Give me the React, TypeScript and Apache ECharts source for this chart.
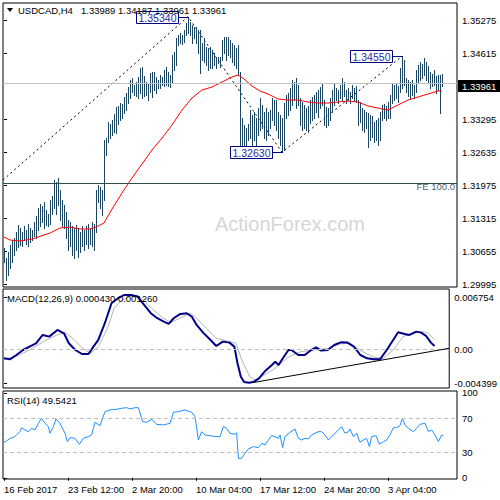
import React, { useEffect, useRef } from "react";
import * as echarts from "echarts";

const FONT = '"Liberation Sans", Arial, sans-serif';

const symbolTitle = "USDCAD,H4";
const ohlc = ["1.33989", "1.34187", "1.33961", "1.33961"];
const lastPrice = 1.33961;
const feLevel = 1.31835;

const highs = [
  1.30715, 1.30515, 1.30635, 1.30775, 1.30875, 1.30915, 1.31035, 1.31175, 1.31115, 1.31035,
  1.31155, 1.31075, 1.31195, 1.31115, 1.31075, 1.31235, 1.31355, 1.31515, 1.31595, 1.31555,
  1.31635, 1.31475, 1.31395, 1.31675, 1.31755, 1.32075, 1.32035, 1.32115, 1.31875, 1.31675,
  1.31575, 1.31435, 1.31275, 1.31235, 1.31155, 1.31115, 1.31175, 1.31115, 1.31035, 1.31155,
  1.31075, 1.31155, 1.31195, 1.31115, 1.31235, 1.31195, 1.31875, 1.31975, 1.31935, 1.31875,
  1.32875, 1.32915, 1.33235, 1.33195, 1.33275, 1.33395, 1.33535, 1.33555, 1.33615, 1.33595,
  1.33735, 1.33815, 1.33935, 1.34075, 1.34115, 1.33975, 1.34035, 1.34135, 1.34315, 1.34335,
  1.34155, 1.34035, 1.34015, 1.34215, 1.34235, 1.34235, 1.34135, 1.34075, 1.34175, 1.34135,
  1.34275, 1.34335, 1.34235, 1.34175, 1.34575, 1.34635, 1.34915, 1.34975, 1.35015, 1.34975,
  1.35075, 1.35215, 1.3534, 1.35235, 1.35175, 1.35135, 1.35135, 1.35075, 1.35075, 1.34815,
  1.34915, 1.34735, 1.34715, 1.34735, 1.34675, 1.34615, 1.34515, 1.34535, 1.34535, 1.34875,
  1.34935, 1.34935, 1.34935, 1.34875, 1.34815, 1.34775, 1.34715, 1.34775, 1.34235, 1.33315,
  1.33175, 1.33115, 1.33195, 1.33475, 1.33375, 1.33435, 1.33315, 1.33515, 1.33715, 1.33575,
  1.33435, 1.33515, 1.33435, 1.33475, 1.33715, 1.33675, 1.33675, 1.33435, 1.33375, 1.33315,
  1.33615, 1.33775, 1.33815, 1.33915, 1.34075, 1.34035, 1.34115, 1.33975, 1.33715, 1.33635,
  1.33575, 1.33515, 1.33555, 1.33675, 1.33735, 1.33775, 1.33835, 1.33875, 1.33935, 1.34015,
  1.33675, 1.33535, 1.33515, 1.33715, 1.33875, 1.34015, 1.33915, 1.33875, 1.33975, 1.34115,
  1.34035, 1.33875, 1.33915, 1.33835, 1.33975, 1.33915, 1.33955, 1.33675, 1.33635, 1.33515,
  1.33475, 1.33435, 1.33415, 1.33375, 1.33355, 1.33235, 1.33275, 1.33315, 1.33435, 1.33575,
  1.33595, 1.33555, 1.33635, 1.33775, 1.34015, 1.33975, 1.33995, 1.33955, 1.34315, 1.3455,
  1.34475, 1.34115, 1.34075, 1.34035, 1.34075, 1.33975, 1.34275, 1.34375, 1.34435, 1.34395,
  1.34515, 1.34435, 1.34355, 1.34235, 1.34195, 1.34275, 1.34155, 1.34175, 1.34175, 1.34187,
];

const lows = [
  1.30435, 1.30075, 1.30175, 1.30315, 1.30435, 1.30575, 1.30675, 1.30735, 1.30775, 1.30755,
  1.30875, 1.30795, 1.30755, 1.30835, 1.30875, 1.30955, 1.30915, 1.31075, 1.31155, 1.31235,
  1.31115, 1.31175, 1.31155, 1.31195, 1.31395, 1.31515, 1.31395, 1.31575, 1.31275, 1.31155,
  1.31115, 1.30915, 1.30675, 1.30755, 1.30575, 1.30515, 1.30675, 1.30535, 1.30635, 1.30755,
  1.30675, 1.30795, 1.30715, 1.30795, 1.30755, 1.30675, 1.31035, 1.31635, 1.31515, 1.31375,
  1.31675, 1.32575, 1.32835, 1.32915, 1.32975, 1.33035, 1.33015, 1.33195, 1.33275, 1.33315,
  1.33415, 1.33475, 1.33615, 1.33715, 1.33835, 1.33775, 1.33755, 1.33715, 1.33815, 1.33715,
  1.33755, 1.33775, 1.33675, 1.33835, 1.33735, 1.33875, 1.33815, 1.33915, 1.33915, 1.33975,
  1.33955, 1.33975, 1.33955, 1.33935, 1.34035, 1.34275, 1.34375, 1.34775, 1.34815, 1.34795,
  1.34835, 1.34975, 1.35015, 1.34975, 1.34815, 1.34915, 1.34815, 1.34615, 1.34215, 1.34475,
  1.34435, 1.34375, 1.34275, 1.34315, 1.34315, 1.34375, 1.34315, 1.34415, 1.34335, 1.34475,
  1.34615, 1.34475, 1.34575, 1.34535, 1.34435, 1.34375, 1.34315, 1.34175, 1.32735, 1.32715,
  1.32675, 1.32755, 1.32875, 1.32915, 1.32775, 1.32875, 1.32735, 1.32975, 1.33075, 1.33115,
  1.32915, 1.32875, 1.32975, 1.33115, 1.33275, 1.33175, 1.33075, 1.32915, 1.32775, 1.3263,
  1.32675, 1.33315, 1.33375, 1.33475, 1.33575, 1.33675, 1.33515, 1.33575, 1.33175, 1.33075,
  1.33115, 1.33075, 1.33035, 1.33215, 1.33275, 1.33315, 1.33435, 1.33335, 1.33515, 1.33575,
  1.33175, 1.33135, 1.33175, 1.33275, 1.33435, 1.33575, 1.33675, 1.33615, 1.33715, 1.33675,
  1.33755, 1.33615, 1.33675, 1.33615, 1.33715, 1.33675, 1.33635, 1.33175, 1.33235, 1.33075,
  1.33035, 1.33115, 1.32735, 1.32875, 1.32935, 1.32835, 1.32875, 1.32775, 1.32875, 1.33275,
  1.33315, 1.33275, 1.33315, 1.33315, 1.33615, 1.33675, 1.33715, 1.33635, 1.33835, 1.33915,
  1.33975, 1.33835, 1.33755, 1.33715, 1.33775, 1.33715, 1.33835, 1.34035, 1.34075, 1.34115,
  1.34175, 1.34075, 1.34035, 1.33915, 1.33955, 1.33975, 1.33815, 1.33875, 1.33415, 1.33961,
];

const maPoints: [number, number][] = [
  [0, 1.30935], [3, 1.30875], [8, 1.30855], [14, 1.30895], [23, 1.31015], [28, 1.31115],
  [33, 1.31135], [38, 1.31095], [43, 1.31095], [46, 1.31135], [50, 1.31215], [54, 1.31495],
  [59, 1.31815], [64, 1.32115], [69, 1.32395], [74, 1.32675], [79, 1.32915], [84, 1.33175],
  [89, 1.33475], [94, 1.33715], [99, 1.33875], [104, 1.33935], [109, 1.34035], [114, 1.34135],
  [117, 1.34175], [120, 1.34095], [124, 1.33955], [128, 1.33855], [132, 1.33795], [137, 1.33695],
  [142, 1.33675], [147, 1.33675], [152, 1.33635], [157, 1.33615], [162, 1.33615], [167, 1.33635],
  [172, 1.33655], [177, 1.33635], [182, 1.33555], [187, 1.33515], [192, 1.33475], [197, 1.33575],
  [202, 1.33675], [207, 1.33735], [212, 1.33795], [217, 1.33855], [219, 1.33855],
];

const fibPoints: [number, number][] = [[-0.5, 1.32075], [92, 1.3534], [139, 1.3263], [199, 1.3455]];

const swingLabels = [
  { idx: 92, price: 1.3534, text: "1.35340" },
  { idx: 139, price: 1.3263, text: "1.32630" },
  { idx: 199, price: 1.3455, text: "1.34550" },
];

const macdPoints: [number, number][] = [
  [0, -0.00117], [3, -0.0013], [6.3, -0.00074], [9.7, -0.00009], [13, 0.00035], [16.3, 0.00078],
  [19.7, 0.00187], [23, 0.00165], [27.2, 0.00252], [30.5, 0.00208], [33, 0.00078], [36.3, -0.00009],
  [39.7, -0.00061], [43, -0.00061], [45.5, 0.00035], [48, 0.00122], [51.3, 0.00339], [54.7, 0.00599],
  [58, 0.00664], [61.3, 0.00707], [64.7, 0.00707], [68, 0.00686], [71.3, 0.00577], [74.7, 0.00469],
  [78, 0.00404], [81.3, 0.0036], [83.8, 0.0033], [86.3, 0.00404], [89.7, 0.0046], [93, 0.00469],
  [95.5, 0.00425], [98, 0.00317], [101.3, 0.00217], [104.7, 0.0013], [108, 0.00043], [111.3, 0.001],
  [114.7, 0.00087], [117.2, 0.00035], [118.8, -0.00182], [120.5, -0.00356], [122.2, -0.00425],
  [124.7, -0.00434], [127.2, -0.00421], [129.7, -0.00378], [133, -0.00278], [136.3, -0.00204],
  [138, -0.00161], [139.7, -0.00204], [141.3, -0.00139], [144.7, -0.00009], [146.3, -0.00009],
  [149.7, -0.00074], [153, -0.00074], [156.3, -0.00009], [158.8, 0.00026], [161.3, -0.00017],
  [164.7, -0.00009], [168, 0.00056], [171.3, 0.00091], [174.7, 0.00087], [178, 0.00035],
  [181.3, -0.00074], [184.7, -0.00117], [188, -0.0013], [191.3, -0.0013], [194.7, -0.00009],
  [198, 0.00122], [200.5, 0.00221], [203.8, 0.002], [206.3, 0.00187], [209.7, 0.0023],
  [212.2, 0.00217], [214.7, 0.00174], [217.2, 0.00087], [219, 0.00043],
];

const signalPoints: [number, number][] = [
  [0, -0.0013], [6, -0.00095], [13, -0.00009], [20, 0.001], [27, 0.00187], [31, 0.00217],
  [35, 0.00143], [40, 0.00013], [44, -0.00052], [48, 0.00035], [53, 0.00295], [56, 0.00534],
  [60, 0.00642], [65, 0.00694], [70, 0.00664], [75, 0.00534], [81, 0.00404], [85, 0.00347],
  [91, 0.00425], [95, 0.00469], [98, 0.00404], [103, 0.00273], [108, 0.00143], [115, 0.001],
  [118, 0.00078], [121, -0.00139], [125, -0.00356], [128, -0.004], [131, -0.00356], [138, -0.00247],
  [145, -0.00095], [151, -0.0003], [158, -0.00009], [165, 0.00013], [171, 0.00069], [176, 0.00078],
  [181, -0.00009], [188, -0.00104], [193, -0.00117], [198, -0.00009], [203, 0.00165], [208, 0.00208],
  [213, 0.0023], [216, 0.00208], [219, 0.00126],
];

const macdTrend: [number, number][] = [[126.3, -0.00434], [226.5, 0.00013]];

const rsiPoints: [number, number][] = [
  [0, 41.8], [1.3, 43.3], [3, 46.5], [4.7, 47.3], [6.3, 50.4], [8, 54.3], [8.8, 59.0], [10.5, 56.3],
  [12.2, 54.3], [13.8, 58.2], [15.5, 56.3], [17.2, 64.1], [18.8, 70.0], [20.5, 64.1], [22.2, 60.2],
  [23, 52.4], [24.7, 60.2], [26, 69.2], [28, 64.1], [30.5, 52.4], [31.7, 42.5], [33, 47.3],
  [35.5, 46.5], [37.7, 39.4], [39.7, 46.5], [42.2, 48.4], [43.8, 50.4], [45.5, 65.3], [48, 61.4],
  [50.5, 77.8], [53, 79.8], [56.3, 80.6], [58.8, 81.8], [61.3, 82.5], [63, 81.0], [65.5, 82.5],
  [67.2, 82.5], [69.3, 66.1], [71.3, 65.3], [73.8, 68.8], [76.3, 62.9], [79.7, 62.2], [83, 64.1],
  [84.7, 77.1], [87.2, 77.8], [90.5, 79.8], [93.8, 77.1], [95.5, 72.0], [97.2, 44.5], [98.8, 54.3],
  [100.5, 50.4], [103, 49.6], [105.5, 48.4], [108, 48.4], [109.7, 60.2], [111.3, 58.2], [113, 52.4],
  [115.5, 51.2], [116.3, 53.1], [117.2, 22.9], [118.8, 22.9], [120.5, 28.8], [122.2, 33.9],
  [124.7, 36.7], [127.2, 35.5], [128.8, 40.6], [130.5, 38.6], [132.2, 44.5], [133.8, 49.6],
  [135.5, 48.4], [137.2, 46.5], [138, 50.4], [139.3, 35.5], [140.5, 48.4], [143, 53.5],
  [145.5, 57.5], [147.2, 46.5], [148.8, 44.5], [150.5, 46.5], [152.2, 45.7], [153.8, 50.4],
  [155.5, 52.4], [157.2, 54.3], [158.8, 54.3], [160.5, 50.4], [162.2, 44.5], [164.7, 50.4],
  [167.2, 56.3], [168.8, 60.2], [170.5, 52.4], [172.2, 54.3], [173, 57.5], [174.7, 48.4],
  [176.3, 52.4], [178, 41.8], [179.7, 44.5], [181.3, 46.5], [182.7, 36.7], [183.8, 48.4],
  [186, 49.6], [187.7, 39.4], [189.7, 42.5], [191.3, 44.5], [193, 50.4], [194.7, 59.0],
  [196.3, 59.0], [198, 61.4], [199.2, 70.0], [200.5, 62.2], [202.2, 58.2], [204.7, 54.3],
  [206.3, 58.2], [208, 62.9], [210.5, 64.1], [212.2, 54.3], [213.8, 56.3], [215.5, 50.4],
  [217.2, 42.5], [218.8, 50.4], [219.7, 49.54],
];

const priceTicks = [1.35275, 1.34615, 1.33295, 1.32635, 1.31975, 1.31315, 1.30655, 1.29995];
const macdTicks = [-0.004399, 0, 0.006754];
const rsiTicks = [0, 30, 70, 100];
const rsiLevels = [70, 30];
const dateTickIdx = [0, 32, 64, 96, 128, 160, 192];
const dateLabels = ["16 Feb 2017", "23 Feb 12:00", "2 Mar 20:00", "10 Mar 04:00", "17 Mar 12:00", "24 Mar 20:00", "3 Apr 04:00"];

const BAR = "#1b4560";
const FS = 9.5;

export default function App() {
  const ref = useRef<HTMLDivElement>(null);
  useEffect(() => {
    if (!ref.current) return;
    const chart = echarts.init(ref.current, null, { renderer: "svg" });
    const barData = highs.map((h, i) => [i, h, lows[i]]);
    const gridBase = { left: 3, width: 454, show: true, borderColor: "#000", borderWidth: 1, backgroundColor: "transparent" };
    const xBase = (g: number) => ({
      type: "value", gridIndex: g, min: -0.5, max: 226.5,
      axisLine: { show: false }, splitLine: { show: false },
      axisTick: g === 2 ? { show: true, customValues: dateTickIdx, length: 3, lineStyle: { color: "#000" } } : { show: false },
      axisLabel: g === 2 ? {
        show: true, customValues: dateTickIdx, align: "left", margin: 5, fontSize: FS, color: "#000", fontFamily: FONT,
        formatter: (v: number) => { const k = dateTickIdx.indexOf(Math.round(v)); return k >= 0 ? dateLabels[k] : ""; },
      } : { show: false },
    });
    const yBase = (g: number, min: number, max: number, ticks: number[], fmt: (v: number) => string) => ({
      type: "value", gridIndex: g, position: "right", min, max,
      axisLine: { show: false }, splitLine: { show: false },
      axisTick: { show: true, customValues: ticks, length: 3, lineStyle: { color: "#000" } },
      axisLabel: { customValues: ticks, formatter: fmt, margin: 5, fontSize: FS, color: "#000", fontFamily: FONT },
    });
    const option: any = {
      animation: false,
      textStyle: { fontFamily: FONT },
      grid: [
        { ...gridBase, top: 3, height: 284 },
        { ...gridBase, top: 289, height: 99 },
        { ...gridBase, top: 391, height: 88 },
      ],
      xAxis: [xBase(0), xBase(1), xBase(2)],
      yAxis: [
        yBase(0, 1.29935, 1.35615, priceTicks, (v: number) => v.toFixed(5)),
        yBase(1, -0.00503, 0.00784, macdTicks, (v: number) => (Math.abs(v) < 1e-9 ? "0.00" : v.toFixed(6))),
        yBase(2, -1.4, 102.1, rsiTicks, (v: number) => String(Math.round(v))),
      ],
      series: [
        {
          type: "line", xAxisIndex: 0, yAxisIndex: 0, data: fibPoints, symbol: "none", z: 2, silent: true,
          lineStyle: { color: "#000", width: 1, type: [2, 3] },
          markLine: {
            silent: true, symbol: ["none", "none"], label: { show: false },
            data: [
              { yAxis: lastPrice, lineStyle: { color: "#c0c0c0", type: "solid", width: 1 } },
              { yAxis: feLevel, lineStyle: { color: "#2f4f4f", type: "solid", width: 1 } },
            ],
          },
        },
        {
          type: "custom", xAxisIndex: 0, yAxisIndex: 0, data: barData, z: 3, clip: true,
          encode: { x: 0, y: [1, 2] },
          renderItem: (params: any, api: any) => {
            const x = api.value(0);
            const p1 = api.coord([x, api.value(1)]);
            const p2 = api.coord([x, api.value(2)]);
            const cx = Math.round(p1[0]) + 0.5;
            return {
              type: "line",
              shape: { x1: cx, y1: Math.round(p1[1]), x2: cx, y2: Math.round(p2[1]) + 1 },
              style: { stroke: BAR, lineWidth: 1 },
            };
          },
        },
        {
          type: "line", xAxisIndex: 0, yAxisIndex: 0, data: maPoints, symbol: "none", z: 4, smooth: false,
          lineStyle: { color: "#ff0000", width: 1 },
        },
        {
          type: "line", xAxisIndex: 1, yAxisIndex: 1, data: signalPoints, symbol: "none", z: 3,
          lineStyle: { color: "#b4b4b4", width: 1 },
          markLine: {
            silent: true, symbol: ["none", "none"], label: { show: false },
            data: [{ yAxis: 0, lineStyle: { color: "#c0c0c0", type: [4, 3], width: 1 } }],
          },
        },
        {
          type: "line", xAxisIndex: 1, yAxisIndex: 1, data: macdPoints, symbol: "none", z: 4,
          lineStyle: { color: "#00008b", width: 2 },
        },
        {
          type: "line", xAxisIndex: 1, yAxisIndex: 1, data: macdTrend, symbol: "none", z: 5,
          lineStyle: { color: "#000", width: 1 },
        },
        {
          type: "line", xAxisIndex: 2, yAxisIndex: 2, data: rsiPoints, symbol: "none", z: 4,
          lineStyle: { color: "#1e90ff", width: 1 },
          markLine: {
            silent: true, symbol: ["none", "none"], label: { show: false },
            data: rsiLevels.map((v) => ({ yAxis: v, lineStyle: { color: "#c0c0c0", type: [4, 3], width: 1 } })),
          },
        },
      ],
    };
    chart.setOption(option);

    const px = (i: number, p: number) => chart.convertToPixel({ gridIndex: 0 } as any, [i, p]) as number[];
    const g: any[] = [];
    g.push({
      type: "text", x: 290, y: 224, z: 1, silent: true,
      style: { text: "ActionForex.com", fill: "#d6d6d6", fontSize: 20, fontFamily: FONT, align: "center", verticalAlign: "middle" },
    });
    swingLabels.forEach((s) => {
      const [x, y] = px(s.idx, s.price);
      const cy = Math.round(y) + 0.5;
      const right = Math.round(x) - 10 + 0.5;
      g.push({ type: "rect", z: 8, shape: { x: right - 42, y: cy - 6, width: 42, height: 12 }, style: { fill: "#fff", stroke: "#000080", lineWidth: 1 } });
      g.push({ type: "line", z: 8, shape: { x1: right, y1: cy, x2: Math.round(x) + 1, y2: cy }, style: { stroke: "#000080", lineWidth: 1 } });
      g.push({ type: "text", z: 9, x: right - 21, y: cy, style: { text: s.text, fill: "#2a2aa8", fontSize: 10.5, fontFamily: FONT, align: "center", verticalAlign: "middle" } });
    });
    const [, lpY] = px(0, lastPrice);
    g.push({ type: "rect", z: 8, shape: { x: 458, y: Math.round(lpY) - 6, width: 42, height: 12 }, style: { fill: "#000" } });
    g.push({ type: "text", z: 9, x: 462, y: Math.round(lpY), style: { text: lastPrice.toFixed(5), fill: "#fff", fontSize: FS, fontFamily: FONT, align: "left", verticalAlign: "middle" } });
    const [, feY] = px(0, feLevel);
    g.push({ type: "text", z: 9, x: 455, y: Math.round(feY) - 6, style: { text: "FE 100.0", fill: "#4d6478", fontSize: FS, fontFamily: FONT, align: "right", verticalAlign: "middle" } });
    g.push({ type: "polygon", z: 10, shape: { points: [[7, 8], [13, 8], [10, 12]] }, style: { fill: "#000" } });
    g.push({ type: "text", z: 10, x: 18, y: 10, style: { text: symbolTitle, fill: "#000", fontSize: FS, fontFamily: FONT, align: "left", verticalAlign: "middle" } });
    g.push({ type: "text", z: 10, x: 81, y: 10, style: { text: ohlc.join(" "), fill: "#000", fontSize: FS, fontFamily: FONT, align: "left", verticalAlign: "middle" } });
    g.push({ type: "text", z: 10, x: 7, y: 298, style: { text: "MACD(12,26,9) 0.000430 0.001260", fill: "#000", fontSize: FS, fontFamily: FONT, align: "left", verticalAlign: "middle" } });
    g.push({ type: "text", z: 10, x: 7, y: 400, style: { text: "RSI(14) 49.5421", fill: "#000", fontSize: FS, fontFamily: FONT, align: "left", verticalAlign: "middle" } });
    chart.setOption({ graphic: g });

    return () => chart.dispose();
  }, []);
  return <div ref={ref} style={{ position: "absolute", left: 0, top: 0, width: 500, height: 500, background: "#fff" }} />;
}
